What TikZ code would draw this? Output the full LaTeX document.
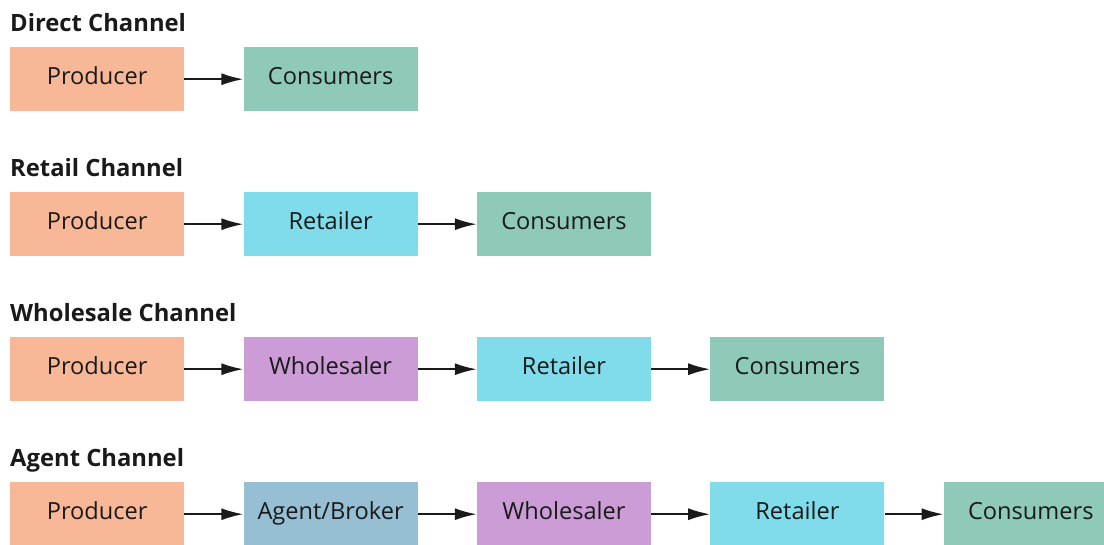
\documentclass[tikz,border=0pt]{standalone}
\usepackage{fontspec}
\setmainfont{Open Sans}
\usetikzlibrary{positioning,arrows.meta}
\definecolor{producer}{HTML}{F8B898}
\definecolor{consumer}{HTML}{8EC9B9}
\definecolor{retailer}{HTML}{80DCEA}
\definecolor{wholesaler}{HTML}{CB9CD5}
\definecolor{agent}{HTML}{97BFD4}
\definecolor{ink}{HTML}{1A1A1A}
\begin{document}
\begin{tikzpicture}[x=1pt, y=-1pt,
    stage/.style={minimum width=174pt, minimum height=64pt, inner sep=0pt,
      text height=17pt, text depth=6pt,
      text=ink, font=\fontsize{23.6}{27}\selectfont},
    channel/.style={anchor=base west, inner sep=0pt, text=ink,
      font=\fontsize{23.8}{27}\selectfont\bfseries},
    flow/.style={-{Latex[length=22pt,width=12pt]}, line width=2pt, ink},
    node distance=59pt]
    \clip (0,0) rectangle (1104,544);
    \useasboundingbox (0,0) rectangle (1104,544);
    % direct
    \node[channel] (t1) at (10,31) {Direct Channel};
    \node[stage, fill=producer, anchor=north west] (p1) at (10,47) {Producer};
    \node[stage, fill=consumer, right=of p1] (c1) {Consumers};
    \draw[flow] (p1) -- (c1);
    % retail
    \node[channel] (t2) at (10,176) {Retail Channel};
    \node[stage, fill=producer, anchor=north west] (p2) at (10,192) {Producer};
    \node[stage, fill=retailer, right=of p2] (r2) {Retailer};
    \node[stage, fill=consumer, right=of r2] (c2) {Consumers};
    \draw[flow] (p2) -- (r2);
    \draw[flow] (r2) -- (c2);
    % wholesale
    \node[channel] (t3) at (10,321) {Wholesale Channel};
    \node[stage, fill=producer, anchor=north west] (p3) at (10,337) {Producer};
    \node[stage, fill=wholesaler, right=of p3] (w3) {Wholesaler};
    \node[stage, fill=retailer, right=of w3] (r3) {Retailer};
    \node[stage, fill=consumer, right=of r3] (c3) {Consumers};
    \draw[flow] (p3) -- (w3);
    \draw[flow] (w3) -- (r3);
    \draw[flow] (r3) -- (c3);
    % agent
    \node[channel] (t4) at (10,466) {Agent Channel};
    \node[stage, fill=producer, anchor=north west] (p4) at (10,482) {Producer};
    \node[stage, fill=agent, right=of p4] (a4) {Agent/Broker};
    \node[stage, fill=wholesaler, right=of a4] (w4) {Wholesaler};
    \node[stage, fill=retailer, right=of w4] (r4) {Retailer};
    \node[stage, fill=consumer, right=of r4] (c4) {Consumers};
    \draw[flow] (p4) -- (a4);
    \draw[flow] (a4) -- (w4);
    \draw[flow] (w4) -- (r4);
    \draw[flow] (r4) -- (c4);
\end{tikzpicture}
\end{document}
